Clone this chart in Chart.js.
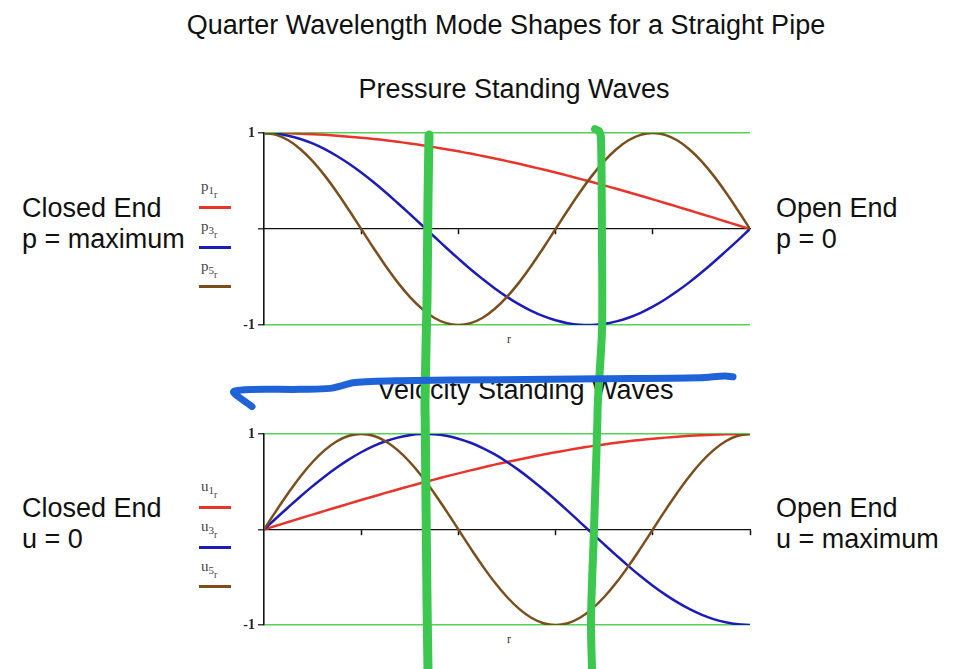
<!DOCTYPE html>
<html>
<head>
<meta charset="utf-8">
<script src="https://cdn.jsdelivr.net/npm/chart.js@4.4.1/dist/chart.umd.min.js"></script>
<style>
  html, body { margin: 0; padding: 0; background: #fff; }
  body { width: 960px; height: 669px; position: relative; overflow: hidden; font-family: "Liberation Sans", Arial, sans-serif; color: #111; }
  .t { position: absolute; font-size: 27px; line-height: 31px; white-space: nowrap; }
  .leg { position: absolute; font-family: "Liberation Serif", "DejaVu Serif", serif; font-size: 15px; color: #444; line-height: 15px; }
  .leg sub { font-size: 11px; vertical-align: -3px; }
  .leg sub sub { font-size: 10px; vertical-align: -4px; }
  .sw { position: absolute; height: 3px; width: 32px; }
  .rl { position: absolute; font-family: "Liberation Serif", serif; font-size: 12px; color: #333; }
  canvas { position: absolute; }
</style>
</head>
<body>
<div class="t" style="left:0;width:1012px;text-align:center;top:10px;">Quarter Wavelength Mode Shapes for a Straight Pipe</div>
<div class="t" style="left:0;width:1028px;text-align:center;top:74px;">Pressure Standing Waves</div>
<div class="t" style="left:0;width:1051px;text-align:center;top:375px;">Velocity Standing Waves</div>

<div class="t" style="left:22px;top:193px;">Closed End<br>p = maximum</div>
<div class="t" style="left:776px;top:193px;">Open End<br>p = 0</div>
<div class="t" style="left:22px;top:493px;">Closed End<br>u = 0</div>
<div class="t" style="left:776px;top:493px;">Open End<br>u = maximum</div>

<div class="leg" style="left:201px;top:179px;">p<sub>1<sub>r</sub></sub></div>
<div class="sw" style="left:199px;top:206px;background:#e8352b;"></div>
<div class="leg" style="left:201px;top:219px;">p<sub>3<sub>r</sub></sub></div>
<div class="sw" style="left:199px;top:246px;background:#1c1cb8;"></div>
<div class="leg" style="left:201px;top:259px;">p<sub>5<sub>r</sub></sub></div>
<div class="sw" style="left:199px;top:285px;background:#7a4f1c;"></div>

<div class="leg" style="left:201px;top:479px;">u<sub>1<sub>r</sub></sub></div>
<div class="sw" style="left:199px;top:506px;background:#e8352b;"></div>
<div class="leg" style="left:201px;top:519px;">u<sub>3<sub>r</sub></sub></div>
<div class="sw" style="left:199px;top:546px;background:#1c1cb8;"></div>
<div class="leg" style="left:201px;top:559px;">u<sub>5<sub>r</sub></sub></div>
<div class="sw" style="left:199px;top:585px;background:#7a4f1c;"></div>

<div class="rl" style="left:507px;top:332px;">r</div>
<div class="rl" style="left:507px;top:632px;">r</div>

<canvas id="top" width="600" height="300" style="left:200px;top:115px;"></canvas>
<canvas id="bot" width="600" height="254" style="left:200px;top:415px;"></canvas>

<script>
// x positions along the pipe (r)
const xs = [0,0.025,0.05,0.075,0.1,0.125,0.15,0.175,0.2,0.225,0.25,0.275,0.3,0.325,0.35,0.375,0.4,0.425,0.45,0.475,0.5,0.525,0.55,0.575,0.6,0.625,0.65,0.675,0.7,0.725,0.75,0.775,0.8,0.825,0.85,0.875,0.9,0.925,0.95,0.975,1];

// Pressure mode shapes
const p1 = [1,0.999,0.997,0.993,0.988,0.981,0.972,0.962,0.951,0.938,0.924,0.908,0.891,0.873,0.853,0.831,0.809,0.786,0.76,0.734,0.707,0.679,0.649,0.619,0.588,0.556,0.522,0.489,0.454,0.419,0.383,0.346,0.309,0.271,0.233,0.195,0.156,0.118,0.078,0.039,0];
const p3 = [1,0.993,0.972,0.938,0.891,0.831,0.76,0.679,0.588,0.489,0.383,0.271,0.156,0.039,-0.078,-0.195,-0.309,-0.419,-0.522,-0.619,-0.707,-0.786,-0.853,-0.908,-0.951,-0.981,-0.997,-0.999,-0.988,-0.962,-0.924,-0.873,-0.809,-0.734,-0.649,-0.556,-0.454,-0.346,-0.233,-0.118,0];
const p5 = [1,0.981,0.924,0.831,0.707,0.556,0.383,0.195,0,-0.195,-0.383,-0.556,-0.707,-0.831,-0.924,-0.981,-1,-0.981,-0.924,-0.831,-0.707,-0.556,-0.383,-0.195,0,0.195,0.383,0.556,0.707,0.831,0.924,0.981,1,0.981,0.924,0.831,0.707,0.556,0.383,0.195,0];

// Velocity mode shapes
const u1 = [0,0.039,0.078,0.118,0.156,0.195,0.233,0.271,0.309,0.346,0.383,0.419,0.454,0.489,0.522,0.556,0.588,0.619,0.649,0.679,0.707,0.734,0.76,0.786,0.809,0.831,0.853,0.873,0.891,0.908,0.924,0.938,0.951,0.962,0.972,0.981,0.988,0.993,0.997,0.999,1];
const u3 = [0,0.118,0.233,0.346,0.454,0.556,0.649,0.734,0.809,0.873,0.924,0.962,0.988,0.999,0.997,0.981,0.951,0.908,0.853,0.786,0.707,0.619,0.522,0.419,0.309,0.195,0.078,-0.039,-0.156,-0.271,-0.383,-0.489,-0.588,-0.679,-0.76,-0.831,-0.891,-0.938,-0.972,-0.993,-1];
const u5 = [0,0.195,0.383,0.556,0.707,0.831,0.924,0.981,1,0.981,0.924,0.831,0.707,0.556,0.383,0.195,0,-0.195,-0.383,-0.556,-0.707,-0.831,-0.924,-0.981,-1,-0.981,-0.924,-0.831,-0.707,-0.556,-0.383,-0.195,0,0.195,0.383,0.556,0.707,0.831,0.924,0.981,1];

// y tick values
const yTicks = [-1, 0, 1];

// Hand-drawn annotation strokes (in data units of each panel)
const greenLeftTopX  = [0.3395,0.3374,0.3354,0.3313,0.3323];
const greenLeftTopY  = [0.98,0.3,-0.74,-1.78,-2.3];
const greenRightTopX = [0.6811,0.6893,0.6934,0.6955,0.6955,0.6872,0.6842];
const greenRightTopY = [1.04,1.02,0.95,-0.22,-1.05,-1.78,-2.3];
const blueStrokeX    = [-0.0247,-0.0617,0.0741,0.1358,0.1872,0.2798,0.4856,0.6914,0.8971,0.9486,0.965];
const blueStrokeY    = [-1.85,-1.69,-1.67,-1.66,-1.6,-1.58,-1.57,-1.56,-1.55,-1.53,-1.54];
const greenLeftBotX  = [0.3313,0.3323,0.3333,0.3354,0.3374];
const greenLeftBotY  = [1.36,0.83,0.31,-0.74,-1.46];
const greenRightBotX = [0.6872,0.6842,0.679,0.6728,0.6749];
const greenRightBotY = [1.36,0.83,0,-0.95,-1.46];

const RED = '#e8352b', BLUE = '#1c1cb8', BROWN = '#7a4f1c';
const GRIDGREEN = '#55d155', MARKGREEN = '#3cc84e', MARKBLUE = '#1f63d8';

const pts = (xa, ya) => xa.map((x, i) => ({x, y: ya[i]}));

function curve(vals, color, order) {
  return { data: pts(xs, vals), borderColor: color, borderWidth: 2.5, pointRadius: 0, tension: 0.4, fill: false, order };
}
function stroke(xa, ya, color, w, order) {
  return { data: pts(xa, ya), borderColor: color, borderWidth: w, pointRadius: 0, tension: 0.3, fill: false,
           clip: false, borderCapStyle: 'round', borderJoinStyle: 'round', order };
}

function makeChart(id, datasets, padding, lastTick) {
  return new Chart(document.getElementById(id), {
    type: 'line',
    data: { datasets },
    options: {
      responsive: false, animation: false, devicePixelRatio: 1,
      layout: { padding },
      plugins: { legend: { display: false }, tooltip: { enabled: false } },
      scales: {
        x: {
          type: 'linear', min: 0, max: 1, position: { y: 0 },
          ticks: { display: false, stepSize: 0.2 },
          grid: { drawOnChartArea: false, drawTicks: true, tickLength: 5,
                  tickColor: c => (c.tick.value === 0 || (!lastTick && c.tick.value === 1)) ? 'rgba(0,0,0,0)' : '#111', tickWidth: 1.5 },
          border: { display: true, color: '#111', width: 1.2 }
        },
        y: {
          type: 'linear', min: -1, max: 1,
          afterBuildTicks: s => { s.ticks = yTicks.map(v => ({ value: v })); },
          afterFit: s => { s.width = 64; },
          ticks: { color: '#222', padding: 3, font: { family: '"Liberation Serif", serif', size: 14, weight: 'bold' },
                   callback: v => v === 0 ? '' : String(v) },
          grid: { color: c => c.tick.value === 0 ? 'rgba(0,0,0,0)' : GRIDGREEN, lineWidth: 1.6,
                  drawTicks: true, tickLength: 6, tickColor: '#111', tickWidth: 1.2 },
          border: { display: true, color: '#111', width: 1.6 }
        }
      }
    }
  });
}

makeChart('top', [
  stroke(blueStrokeX, blueStrokeY, MARKBLUE, 7, 0),
  stroke(greenLeftTopX, greenLeftTopY, MARKGREEN, 9, 1),
  stroke(greenRightTopX, greenRightTopY, MARKGREEN, 8, 1),
  curve(p5, BROWN, 2),
  curve(p3, BLUE, 3),
  curve(p1, RED, 4)
], { left: 0, right: 50, top: 18, bottom: 90 }, false);

makeChart('bot', [
  stroke(greenLeftBotX, greenLeftBotY, MARKGREEN, 9, 1),
  stroke(greenRightBotX, greenRightBotY, MARKGREEN, 8, 1),
  curve(u5, BROWN, 2),
  curve(u3, BLUE, 3),
  curve(u1, RED, 4)
], { left: 0, right: 50, top: 19, bottom: 44 }, true);
</script>
</body>
</html>
